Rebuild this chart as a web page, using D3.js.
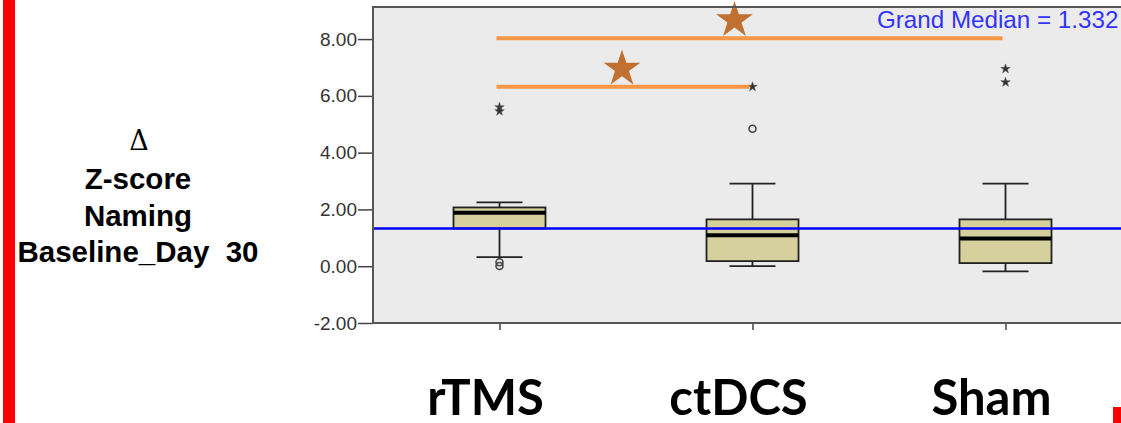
<!DOCTYPE html>
<html lang="en">
<head>
<meta charset="utf-8">
<script src="https://cdn.jsdelivr.net/npm/d3@7"></script>
<style>
  body { margin: 0; background: #fff; }
  svg { display: block; }
</style>
</head>
<body>
<div id="chart"></div>
<script>
// groups and box statistics
var groups = ["rTMS", "ctDCS", "Sham"];
var q1 = [1.33, 0.18, 0.11];
var medians = [1.88, 1.09, 0.98];
var q3 = [2.07, 1.65, 1.65];
var whiskLow = [0.32, 0.00, -0.18];
var whiskHigh = [2.25, 2.91, 2.91];
// outliers: circles and extremes (stars)
var circleOut = [["rTMS", 0.14], ["rTMS", 0.01], ["ctDCS", 4.84]];
var extremeOut = [["rTMS", 5.60], ["rTMS", 5.46], ["ctDCS", 6.32], ["Sham", 6.95], ["Sham", 6.48]];
var grandMedian = 1.332;
var yTicks = [-2, 0, 2, 4, 6, 8];
// significance bars
var sigFrom = ["rTMS", "rTMS"];
var sigTo = ["Sham", "ctDCS"];
var sigValue = [8.03, 6.32];

var W = 1121, H = 423;
var pLeft = 373, pRight = 1132, pTop = 7, pBottom = 323;

var svg = d3.select("#chart").append("svg")
    .attr("width", W)
    .attr("height", H);

var x = d3.scalePoint().domain(groups).range([pLeft, pRight]).padding(0.5);
var y = d3.scaleLinear().domain([-2, 9.13]).range([pBottom, pTop]);

// red bars on the slide
svg.append("rect").attr("x", 3).attr("y", 0).attr("width", 12).attr("height", H).attr("fill", "#ff0000");
svg.append("rect").attr("x", 1113).attr("y", 407).attr("width", 8).attr("height", 16).attr("fill", "#ff0000");

// plot background
svg.append("rect")
    .attr("x", pLeft).attr("y", pTop)
    .attr("width", pRight - pLeft).attr("height", pBottom - pTop)
    .attr("fill", "#ebebeb");

// y axis
var yAxis = d3.axisLeft(y).tickValues(yTicks).tickSize(15)
    .tickFormat(function(d) { return d.toFixed(2); });
var gy = svg.append("g").attr("transform", "translate(" + pLeft + ",0)").call(yAxis);
gy.select(".domain").remove();
gy.selectAll("line").attr("stroke", "#444").attr("stroke-width", 1.5);
gy.selectAll("text").attr("font-family", "Arial, 'Liberation Sans', sans-serif")
    .attr("font-size", 19).attr("fill", "#333").attr("x", -16);

// x ticks
var xAxis = d3.axisBottom(x).tickSize(7).tickFormat("");
var gx = svg.append("g").attr("transform", "translate(0," + pBottom + ")").call(xAxis);
gx.select(".domain").remove();
gx.selectAll("line").attr("stroke", "#444").attr("stroke-width", 1.5);

// boxes
var bw = 92;
var boxes = svg.append("g").selectAll("g")
    .data(groups)
    .enter().append("g");

boxes.append("line")
    .attr("x1", function(d) { return x(d); })
    .attr("x2", function(d) { return x(d); })
    .attr("y1", function(d, i) { return y(whiskHigh[i]); })
    .attr("y2", function(d, i) { return y(q3[i]); })
    .attr("stroke", "#222").attr("stroke-width", 1.8);
boxes.append("line")
    .attr("x1", function(d) { return x(d); })
    .attr("x2", function(d) { return x(d); })
    .attr("y1", function(d, i) { return y(whiskLow[i]); })
    .attr("y2", function(d, i) { return y(q1[i]); })
    .attr("stroke", "#222").attr("stroke-width", 1.8);
boxes.append("line")
    .attr("x1", function(d) { return x(d) - bw / 4; })
    .attr("x2", function(d) { return x(d) + bw / 4; })
    .attr("y1", function(d, i) { return y(whiskHigh[i]); })
    .attr("y2", function(d, i) { return y(whiskHigh[i]); })
    .attr("stroke", "#222").attr("stroke-width", 1.8);
boxes.append("line")
    .attr("x1", function(d) { return x(d) - bw / 4; })
    .attr("x2", function(d) { return x(d) + bw / 4; })
    .attr("y1", function(d, i) { return y(whiskLow[i]); })
    .attr("y2", function(d, i) { return y(whiskLow[i]); })
    .attr("stroke", "#222").attr("stroke-width", 1.8);
boxes.append("rect")
    .attr("x", function(d) { return x(d) - bw / 2; })
    .attr("y", function(d, i) { return y(q3[i]); })
    .attr("width", bw)
    .attr("height", function(d, i) { return y(q1[i]) - y(q3[i]); })
    .attr("fill", "#d5d09c").attr("stroke", "#222").attr("stroke-width", 1.8);
boxes.append("line")
    .attr("x1", function(d) { return x(d) - bw / 2; })
    .attr("x2", function(d) { return x(d) + bw / 2; })
    .attr("y1", function(d, i) { return y(medians[i]); })
    .attr("y2", function(d, i) { return y(medians[i]); })
    .attr("stroke", "#000").attr("stroke-width", 4);

// outliers
svg.append("g").selectAll("circle")
    .data(circleOut)
    .enter().append("circle")
    .attr("cx", function(d) { return x(d[0]); })
    .attr("cy", function(d) { return y(d[1]); })
    .attr("r", 3.5)
    .attr("fill", "none").attr("stroke", "#444").attr("stroke-width", 1.6);

svg.append("g").selectAll("path")
    .data(extremeOut)
    .enter().append("path")
    .attr("d", d3.symbol().type(d3.symbolStar).size(28))
    .attr("transform", function(d) { return "translate(" + x(d[0]) + "," + y(d[1]) + ")"; })
    .attr("fill", "#333").attr("stroke", "#555").attr("stroke-width", 0.5);

// grand median
svg.append("line")
    .attr("x1", pLeft).attr("x2", W)
    .attr("y1", y(grandMedian)).attr("y2", y(grandMedian))
    .attr("stroke", "#0000ff").attr("stroke-width", 2.5);
svg.append("text")
    .attr("x", 877).attr("y", 28)
    .attr("font-family", "Arial, 'Liberation Sans', sans-serif")
    .attr("font-size", 24.2)
    .attr("fill", "#3333ff")
    .text("Grand Median = " + grandMedian);

// significance bars and stars
var starShift = [-18, -4];
sigValue.forEach(function(v, i) {
    svg.append("line")
        .attr("x1", x(sigFrom[i]) - 3).attr("x2", x(sigTo[i]) - 3)
        .attr("y1", y(v)).attr("y2", y(v))
        .attr("stroke", "#f79646").attr("stroke-width", 4);
    var mx = (x(sigFrom[i]) + x(sigTo[i])) / 2 + starShift[i];
    svg.append("path")
        .attr("d", d3.symbol().type(d3.symbolStar).size(420))
        .attr("transform", "translate(" + mx + "," + (y(v) - 18) + ")")
        .attr("fill", "#c07030");
});

// frame
svg.append("rect")
    .attr("x", pLeft).attr("y", pTop)
    .attr("width", pRight - pLeft).attr("height", pBottom - pTop)
    .attr("fill", "none").attr("stroke", "#555").attr("stroke-width", 2);

// category labels
svg.append("g").selectAll("text")
    .data(groups)
    .enter().append("text")
    .attr("x", function(d) { return x(d) - 14; })
    .attr("y", 415)
    .attr("text-anchor", "middle")
    .attr("font-family", "Lato, sans-serif")
    .attr("font-weight", "bold")
    .attr("font-size", 49)
    .attr("fill", "#000")
    .text(function(d) { return d; });

// y label
var yLab = svg.append("g").attr("text-anchor", "middle").attr("fill", "#000");
yLab.append("text").attr("x", 139).attr("y", 150)
    .attr("font-family", "'DejaVu Serif', serif")
    .attr("font-size", 27).text("\u0394");
var labLines = ["Z-score", "Naming", "Baseline_Day  30"];
yLab.selectAll("text.l")
    .data(labLines)
    .enter().append("text")
    .attr("class", "l")
    .attr("x", 138)
    .attr("y", function(d, i) { return 189 + i * 36.5; })
    .attr("font-family", "Arial, 'Liberation Sans', sans-serif")
    .attr("font-weight", "bold")
    .attr("font-size", 29.5)
    .style("white-space", "pre")
    .text(function(d) { return d; });
</script>
</body>
</html>
